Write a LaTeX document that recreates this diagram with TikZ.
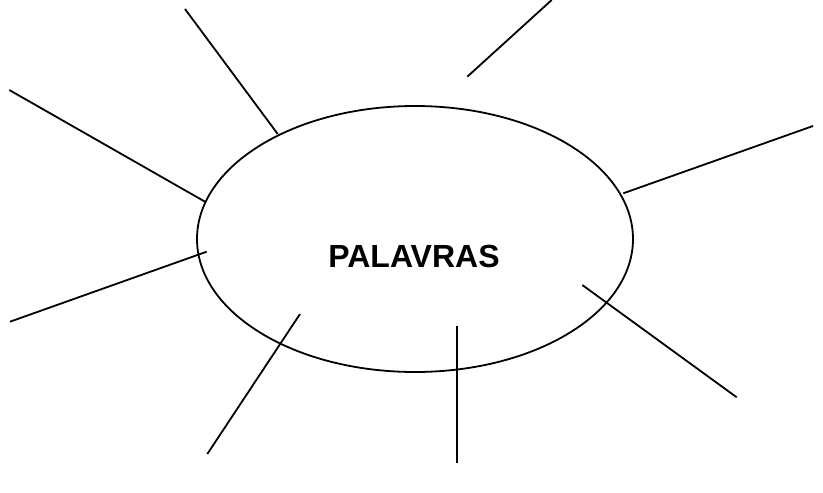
\documentclass[tikz,border=0pt]{standalone}
\usepackage{fontspec}
\setmainfont{Liberation Sans}
\usetikzlibrary{shapes.geometric}

\tikzset{
  ray/.style={line width=1.8pt},
  bubble/.style={draw, line width=1.8pt, ellipse, inner sep=0pt},
  word/.style={font=\fontsize{32}{38}\selectfont\bfseries, inner sep=0pt}
}

\begin{document}
\begin{tikzpicture}[x=1pt, y=-1pt]
    % Parameters
    \def\rx{218} % half width of the ellipse
    \def\ry{133} % half height of the ellipse

    \useasboundingbox (0,0) rectangle (823,493);

    % Draw the ellipse
    \node[bubble, minimum width=2*\rx pt, minimum height=2*\ry pt] (ring) at (415,239) {};

    % Add the word
    \node[word] (palavras) at (414,256) {PALAVRAS};

    % Add the rays round the ellipse
    \foreach \name/\ax/\ay/\bx/\by in {
        topleft/185/9/277.7/134,
        top/551.7/0/467.3/76.7,
        upleft/9.3/90/205/201.7,
        lowleft/10/321.7/206.7/251.7,
        right/623.3/193.3/813/126,
        downleft/207.3/454/300/314,
        down/456.7/463/456.7/326,
        downright/736.7/397.3/582.3/285} {
        \coordinate (\name-a) at (\ax,\ay);
        \coordinate (\name-b) at (\bx,\by);
        \draw[ray] (\name-a) -- (\name-b);
    }
\end{tikzpicture}
\end{document}
